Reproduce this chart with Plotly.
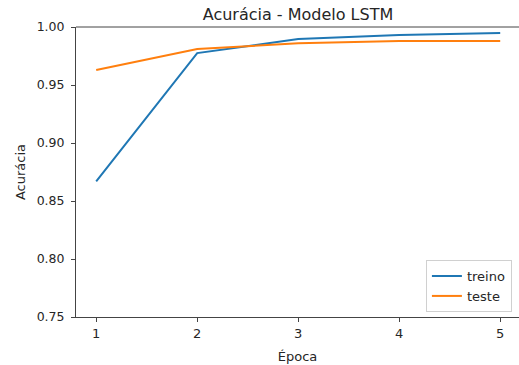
import plotly.graph_objects as go

epocas = [1, 2, 3, 4, 5]
treino = [0.867, 0.9775, 0.9896, 0.993, 0.9948]
teste = [0.963, 0.981, 0.986, 0.988, 0.988]
x_ticks = [1, 2, 3, 4, 5]
y_ticks = [0.75, 0.80, 0.85, 0.90, 0.95, 1.00]
y_tick_labels = ["0.75", "0.80", "0.85", "0.90", "0.95", "1.00"]

font_family = "DejaVu Sans"
txt = "#262626"

fig = go.Figure()
fig.add_trace(go.Scatter(x=epocas, y=treino, mode="lines", name="treino",
                         line=dict(color="#1f77b4", width=2)))
fig.add_trace(go.Scatter(x=epocas, y=teste, mode="lines", name="teste",
                         line=dict(color="#ff7f0e", width=2)))

fig.update_layout(
    width=519, height=365,
    margin=dict(l=76, r=0, t=27, b=48, autoexpand=False),
    paper_bgcolor="white", plot_bgcolor="white",
    font=dict(family=font_family, color=txt, size=12),
    title=dict(text="Acurácia - Modelo LSTM", x=298 / 519, xanchor="center",
               y=1 - 14 / 365, yanchor="middle",
               font=dict(size=16, family=font_family, color=txt)),
    showlegend=True,
    legend=dict(x=0.984, y=0.017, xanchor="right", yanchor="bottom",
                bgcolor="white", bordercolor="#d0d0d0", borderwidth=1,
                font=dict(size=13, family=font_family, color=txt),
                tracegroupgap=0, itemwidth=30),
)

fig.update_xaxes(
    range=[0.8, 5.186], tickmode="array", tickvals=x_ticks,
    ticktext=[str(v) for v in x_ticks], automargin=False,
    showgrid=False, zeroline=False,
    showline=True, linecolor="#444", linewidth=1,
    ticks="outside", ticklen=4, tickcolor="#444", tickwidth=1,
    tickfont=dict(size=13, family=font_family, color=txt),
    title=dict(text="Época", font=dict(size=13, family=font_family, color=txt), standoff=12),
)
fig.update_yaxes(
    range=[0.75, 1.0], tickmode="array", tickvals=y_ticks, ticktext=y_tick_labels,
    automargin=False,
    showgrid=False, zeroline=False,
    showline=True, linecolor="#444", linewidth=1,
    ticks="outside", ticklen=4, tickcolor="#444", tickwidth=1,
    tickfont=dict(size=12.5, family=font_family, color=txt),
    ticklabelstandoff=4,
    title=dict(text="Acurácia", font=dict(size=13, family=font_family, color=txt), standoff=8),
)

fig.add_shape(type="line", xref="paper", yref="paper", x0=0, x1=1, y0=1, y1=1,
              line=dict(color="#444", width=1))

fig.write_html(
    "out.html",
    config={"displayModeBar": False},
    post_script="document.body.style.margin='0';document.body.style.overflow='hidden';",
)
